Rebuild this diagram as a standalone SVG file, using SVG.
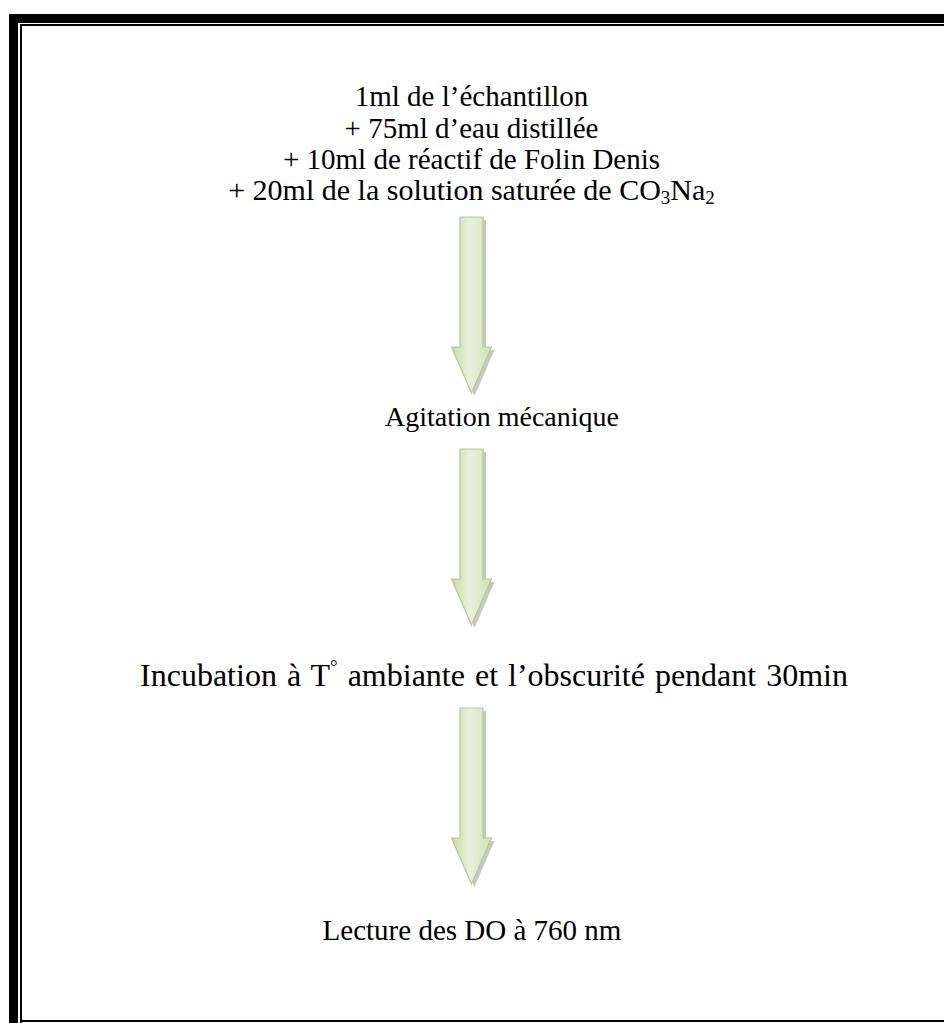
<svg xmlns="http://www.w3.org/2000/svg" width="944" height="1023" viewBox="0 0 944 1023">
  <defs>
    <style>
      .t { font-family: "Liberation Serif", "Times New Roman", serif; font-size: 29px; fill: #000; text-anchor: middle; }
      .sub { font-size: 19px; }
      .arrow { fill: url(#arrowFill); stroke: #b5cc8c; stroke-width: 1.2; }
      .shadow { fill: #9a9a90; opacity: 0.55; }
    </style>
    <linearGradient id="arrowFill" x1="0" y1="0" x2="1" y2="0">
      <stop offset="0" stop-color="#c6d9a6"/>
      <stop offset="0.45" stop-color="#e9f1de"/>
      <stop offset="1" stop-color="#d0e0b6"/>
    </linearGradient>
    <!-- block arrow pointing down, origin at top-centre of the shaft -->
    <path id="downArrow" d="M -11.5 0 H 11.5 V 130 H 20 L 0 176 L -20 130 H -11.5 Z"/>
  </defs>

  <rect width="944" height="1023" fill="#fff"/>

  <!-- page frame: thick outer band and thin inner rule -->
  <g id="frame" fill="#000">
    <rect x="9" y="14" width="935" height="9"/>
    <rect x="9" y="14" width="9" height="1009"/>
    <rect x="20" y="24" width="924" height="2"/>
    <rect x="20" y="24" width="2" height="999"/>
    <rect x="20" y="1020" width="924" height="2"/>
  </g>

  <g id="connectors">
    <g transform="translate(471.5,217)">
      <use href="#downArrow" class="shadow" transform="translate(3,3)"/>
      <use href="#downArrow" class="arrow"/>
    </g>
    <g transform="translate(471.5,449)">
      <use href="#downArrow" class="shadow" transform="translate(3,3)"/>
      <use href="#downArrow" class="arrow"/>
    </g>
    <g transform="translate(471.5,708)">
      <use href="#downArrow" class="shadow" transform="translate(3,3)"/>
      <use href="#downArrow" class="arrow"/>
    </g>
  </g>

  <g id="node-mixture">
    <text class="t" x="471.5" y="106">1ml de l’échantillon</text>
    <text class="t" x="471.5" y="137.5">+ 75ml d’eau distillée</text>
    <text class="t" x="471.5" y="169">+ 10ml de réactif de Folin Denis</text>
    <text class="t" x="471.5" y="200" style="font-size:30px">+ 20ml de la solution saturée de CO<tspan class="sub" dy="4">3</tspan><tspan dy="-4">Na</tspan><tspan class="sub" dy="4">2</tspan></text>
  </g>

  <g id="node-agitation">
    <text class="t" x="502" y="426" style="font-size:28px">Agitation mécanique</text>
  </g>

  <g id="node-incubation">
    <text class="t" x="494" y="686" style="font-size:32px; word-spacing:2px">Incubation à T<tspan class="sub" dy="-13">°</tspan><tspan dy="13"> ambiante et l’obscurité pendant 30min</tspan></text>
  </g>

  <g id="node-lecture">
    <text class="t" x="472" y="940">Lecture des DO à 760 nm</text>
  </g>
</svg>
